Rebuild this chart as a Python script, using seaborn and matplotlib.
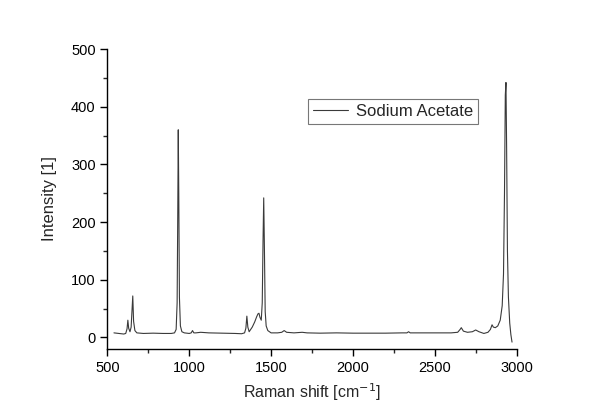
import matplotlib
matplotlib.use('Agg')
import pandas as pd
import matplotlib.pyplot as plt
import seaborn as sns
from matplotlib.ticker import MultipleLocator

# spectrum points
raman_shift = [540, 570, 600, 612, 620, 625, 630, 638, 645, 650, 655, 660, 668, 680,
               720, 780, 840, 890, 910, 920, 926, 930, 933, 936, 940, 946, 955, 970,
               1000, 1012, 1020, 1028, 1040, 1070, 1120, 1200, 1280, 1320, 1338, 1346,
               1352, 1358, 1366, 1385, 1400, 1412, 1420, 1426, 1432, 1440, 1446, 1451,
               1455, 1459, 1464, 1470, 1480, 1500, 1540, 1565, 1580, 1595, 1640, 1690,
               1720, 1800, 1900, 2000, 2100, 2200, 2300, 2330, 2340, 2350, 2400, 2500,
               2600, 2640, 2655, 2662, 2675, 2700, 2730, 2750, 2770, 2800, 2825, 2840,
               2850, 2858, 2870, 2885, 2900, 2912, 2920, 2926, 2931, 2935, 2939, 2944,
               2950, 2958, 2965, 2972]
intensity = [8, 7, 6, 7, 15, 30, 16, 10, 18, 45, 72, 28, 12, 8,
             7, 7.5, 7, 7, 8, 14, 60, 220, 360, 250, 70, 20, 10, 8,
             7, 8, 12, 8, 8, 9, 8, 7.5, 7, 6.5, 8, 16,
             37, 18, 10, 18, 27, 36, 41, 42, 35, 30, 60, 170,
             242, 160, 45, 20, 12, 8, 8, 9, 12, 9, 8, 9,
             8, 7.5, 8, 7.5, 7.5, 7.5, 8, 8, 10, 8, 8, 8,
             8, 9, 14, 17, 11, 9, 10, 13, 10, 7, 9, 14,
             22, 18, 17, 20, 30, 55, 110, 250, 420, 442, 330, 150,
             70, 25, 5, -8]
legend_labels = ['Sodium Acetate']

df = pd.DataFrame({'shift': raman_shift, 'intensity': intensity})

sns.set_style('ticks')
plt.rcParams['font.family'] = ['Liberation Sans', 'DejaVu Sans']

fig = plt.figure(figsize=(6, 4.19), dpi=100)
ax = fig.add_axes([0.179, 0.167, 0.682, 0.716])

sns.lineplot(data=df, x='shift', y='intensity', ax=ax, color='#3a3a3a',
             linewidth=0.8, label=legend_labels[0], sort=False)

ax.set_xlim(500, 3000)
ax.set_ylim(-20, 500)
ax.set_xticks([500, 1000, 1500, 2000, 2500, 3000])
ax.set_yticks([0, 100, 200, 300, 400, 500])
ax.xaxis.set_minor_locator(MultipleLocator(250))
ax.yaxis.set_minor_locator(MultipleLocator(50))
ax.tick_params(which='major', direction='out', length=5, width=1, labelsize=10.5, colors='black')
ax.tick_params(which='minor', direction='out', length=3, width=1)
sns.despine(ax=ax)
for s in ['left', 'bottom']:
    ax.spines[s].set_color('black')
    ax.spines[s].set_linewidth(1)

ax.set_xlabel('Raman shift [cm$^{-1}$]', fontsize=11.5, labelpad=5)
ax.set_ylabel('Intensity [1]', fontsize=12, labelpad=10)

leg = ax.legend(loc='upper left', bbox_to_anchor=(0.49, 0.835), fontsize=12,
                frameon=True, fancybox=False, handlelength=2.1, borderpad=0.3,
                borderaxespad=0, handletextpad=0.5)
leg.get_frame().set_edgecolor('#555555')
leg.get_frame().set_linewidth(0.8)

plt.savefig('out.png', dpi=100)
